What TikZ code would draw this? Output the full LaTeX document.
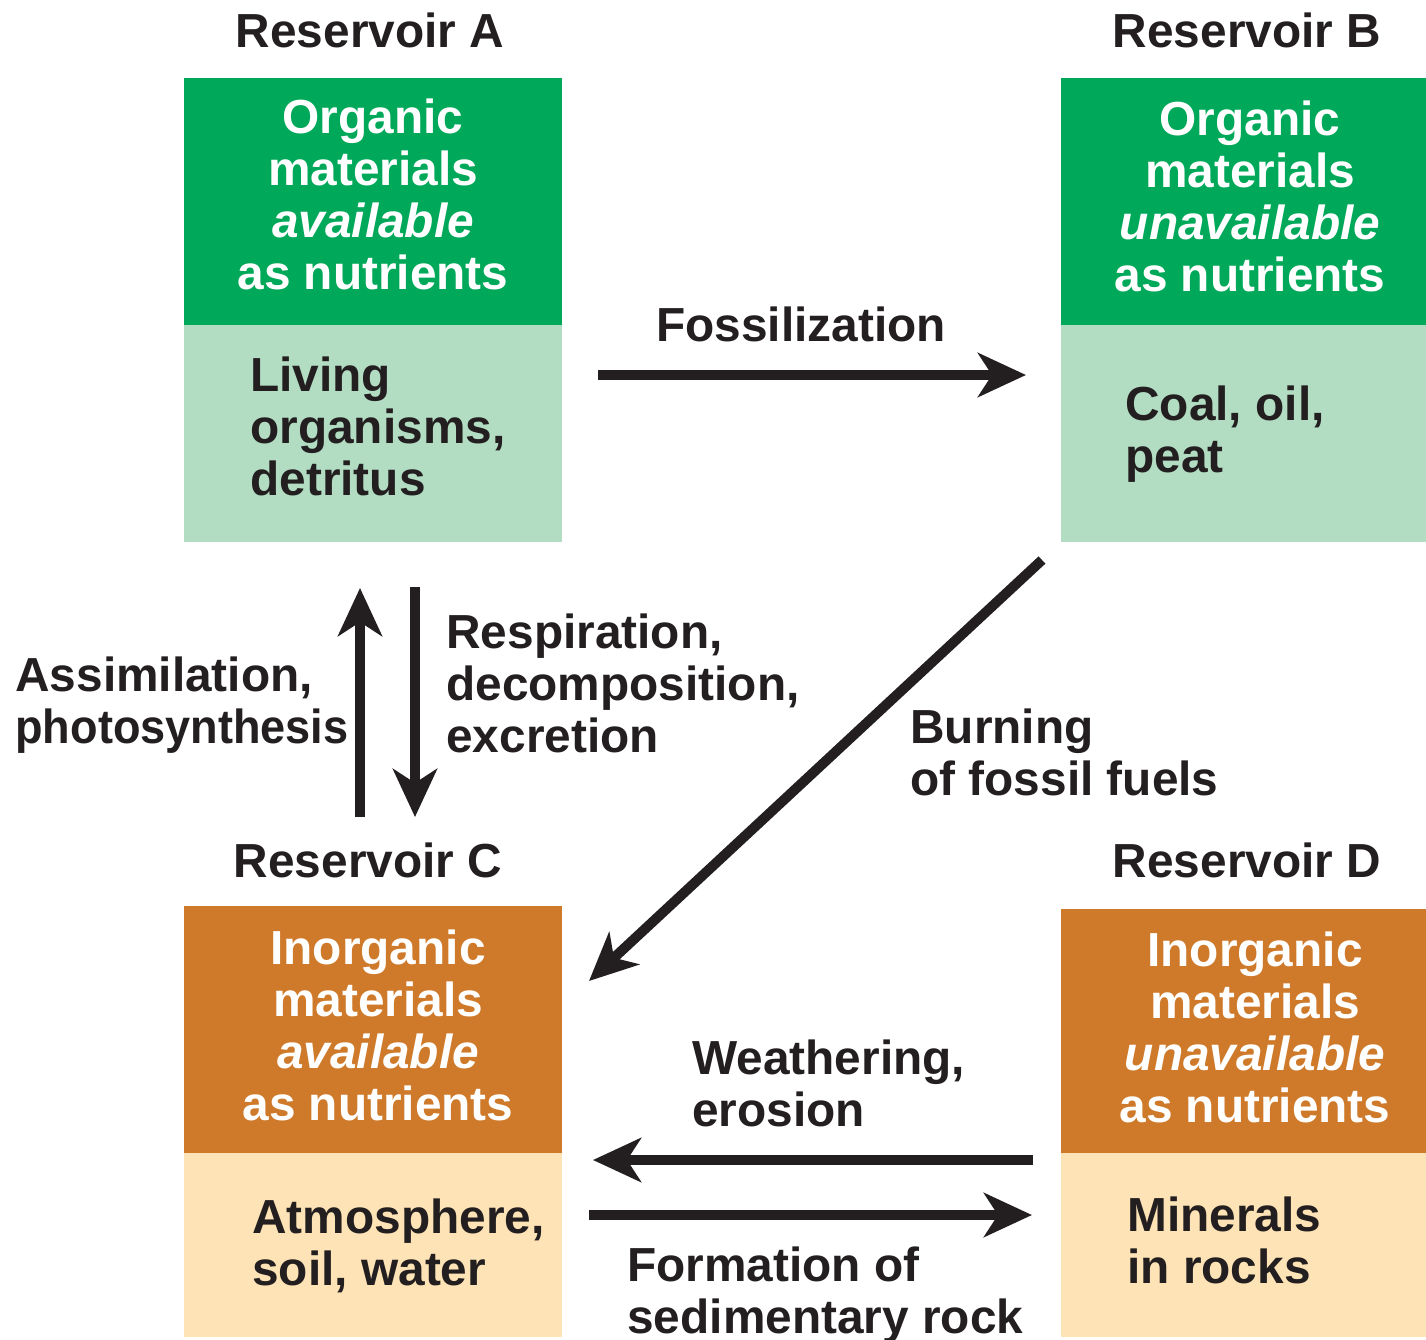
\documentclass[tikz,border=0pt]{standalone}
\usepackage{fontspec}
\setmainfont{Liberation Sans}
\usetikzlibrary{arrows.meta}
\definecolor{dgreen}{HTML}{00A859}
\definecolor{lgreen}{HTML}{B2DDC3}
\definecolor{dorange}{HTML}{CF7A2A}
\definecolor{lorange}{HTML}{FDE3B5}
\definecolor{ink}{HTML}{231F20}
\begin{document}
\begin{tikzpicture}[x=0.5pt,y=-0.5pt,
  txt/.style={font=\bfseries\fontsize{23.9}{26}\selectfont, text=ink, inner sep=0pt},
  wtxt/.style={txt, text=white, align=center},
  ltxt/.style={txt, align=left, anchor=west},
  flow/.style={line width=5pt, draw=ink, -{Stealth[length=24pt,width=22pt,inset=7pt]}}]
\useasboundingbox (0,0) rectangle (1426,1340);
% boxes
\fill[dgreen] (184,78) rectangle (562,325);
\fill[lgreen] (184,325) rectangle (562,542);
\fill[dgreen] (1061,78) rectangle (1426,325);
\fill[lgreen] (1061,325) rectangle (1426,542);
\fill[dorange] (184,906) rectangle (562,1153);
\fill[lorange] (184,1153) rectangle (562,1337);
\fill[dorange] (1061,909) rectangle (1426,1153);
\fill[lorange] (1061,1153) rectangle (1426,1337);
% titles
\node[txt] (tA) at (370,30) {Reservoir A};
\node[txt] (tB) at (1247,30) {Reservoir B};
\node[txt] (tC) at (368,860) {Reservoir C};
\node[txt] (tD) at (1247,860) {Reservoir D};
% box texts
\node[wtxt] (gA) at (373,194) {Organic\\materials\\\textit{available}\\as nutrients};
\node[wtxt] (gB) at (1250,196) {Organic\\materials\\\textit{unavailable}\\as nutrients};
\node[wtxt] (gC) at (378,1025) {Inorganic\\materials\\\textit{available}\\as nutrients};
\node[wtxt] (gD) at (1255,1027) {Inorganic\\materials\\\textit{unavailable}\\as nutrients};
\node[ltxt] (lA) at (250,426) {Living\\organisms,\\detritus};
\node[ltxt] (lB) at (1125,434) {Coal, oil,\\peat};
\node[ltxt] (lC) at (252,1246) {Atmosphere,\\soil, water};
\node[ltxt] (lD) at (1127,1240) {Minerals\\in rocks};
% arrow endpoints
\coordinate (f1) at (598,375); \coordinate (f2) at (1026,375);
\coordinate (b1) at (1042,560); \coordinate (b2) at (589,981);
\coordinate (u1) at (360,817); \coordinate (u2) at (360,588);
\coordinate (d1) at (415,587); \coordinate (d2) at (415,817);
\coordinate (w1) at (1033,1160); \coordinate (w2) at (593,1160);
\coordinate (s1) at (589,1215); \coordinate (s2) at (1032,1215);
\draw[flow] (f1) -- (f2);
\draw[flow] (b1) -- (b2);
\draw[flow] (u1) -- (u2);
\draw[flow] (d1) -- (d2);
\draw[flow] (w1) -- (w2);
\draw[flow] (s1) -- (s2);
% labels
\node[txt] (fl) at (801,324) {Fossilization};
\node[ltxt] (bl) at (910,752) {Burning\\of fossil fuels};
\node[ltxt] (al) at (15,705) {Assimilation,\\\scalebox{0.943}[1]{photosynthesis}};
\node[ltxt] (rl) at (446,683) {Respiration,\\decomposition,\\excretion};
\node[ltxt] (wl) at (692,1083) {Weathering,\\erosion};
\node[ltxt] (sl) at (627,1295) {Formation of\\sedimentary rock};
\end{tikzpicture}
\end{document}
